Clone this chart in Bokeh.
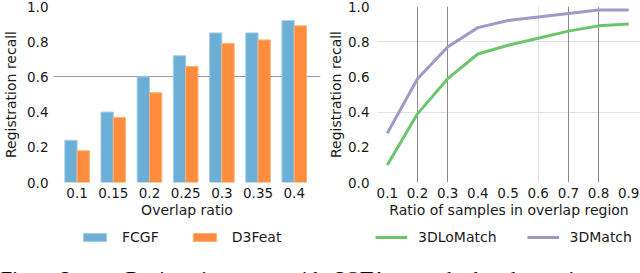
from bokeh.plotting import figure
from bokeh.models import (ColumnDataSource, Legend, LegendItem, FixedTicker, Grid,
                          Label, NumeralTickFormatter)
from bokeh.layouts import row, column
from bokeh.transform import dodge
from bokeh.embed import file_html
from bokeh.resources import INLINE

# ---------------- data ----------------
overlap_labels = ["0.1", "0.15", "0.2", "0.25", "0.3", "0.35", "0.4"]
fcgf = [0.24, 0.40, 0.60, 0.72, 0.85, 0.85, 0.92]
d3feat = [0.18, 0.37, 0.51, 0.66, 0.79, 0.81, 0.89]

sample_ratio = [0.1, 0.2, 0.3, 0.4, 0.5, 0.6, 0.7, 0.8, 0.9]
lomatch = [0.10, 0.39, 0.59, 0.73, 0.78, 0.82, 0.86, 0.89, 0.90]
match3d = [0.28, 0.59, 0.77, 0.88, 0.92, 0.94, 0.96, 0.98, 0.98]

y_ticks = [0.0, 0.2, 0.4, 0.6, 0.8, 1.0]

caption_words = ["Figure 2:", "Registration", "with", "SOTA", "methods", "data", "in", "t"]

FONT = "DejaVu Sans"
TICK_FS = "13.5px"
TITLE_FS = "14px"
TXT = "#1a1a1a"
BLUE, BLUE_EDGE = "#6baed6", "#a6cde6"
ORANGE, ORANGE_EDGE = "#fd8d3c", "#fdb17a"
GREEN, PURPLE = "#6cc46c", "#9e9ac8"

CAP_FONT = "Liberation Serif"
CAP_FS = "21px"


def style_axes(p):
    for ax in (p.xaxis[0], p.yaxis[0]):
        ax.axis_line_color = None
        ax.major_tick_line_color = None
        ax.minor_tick_line_color = None
        ax.major_tick_out = 0
        ax.major_tick_in = 0
        ax.major_label_text_font = FONT
        ax.major_label_text_font_size = TICK_FS
        ax.major_label_text_color = TXT
        ax.axis_label_text_font = FONT
        ax.axis_label_text_font_size = TITLE_FS
        ax.axis_label_text_font_style = "normal"
        ax.axis_label_text_color = TXT
    p.outline_line_color = None
    p.background_fill_color = "white"
    p.border_fill_color = "white"


ROW_H = 222
T1 = 6
FH = 176
B1 = ROW_H - T1 - FH

# ---------------- left: bar chart ----------------
L1, R1 = 48, 5
idx = list(range(len(overlap_labels)))
src1 = ColumnDataSource(dict(x=idx, fcgf=fcgf, d3feat=d3feat))

p1 = figure(width=325, height=ROW_H, x_range=(-0.652, 6.725), y_range=(0, 1.0),
            output_backend="svg", toolbar_location=None,
            min_border_left=L1, min_border_right=R1, min_border_top=T1, min_border_bottom=B1)
style_axes(p1)
bw = 0.34
bar_f = dict(fill_color=BLUE, line_color=BLUE_EDGE, line_width=1)
bar_d = dict(fill_color=ORANGE, line_color=ORANGE_EDGE, line_width=1)
p1.vbar(x=dodge("x", -bw / 2, range=p1.x_range), top="fcgf", width=bw, source=src1, **bar_f)
p1.vbar(x=dodge("x", bw / 2, range=p1.x_range), top="d3feat", width=bw, source=src1, **bar_d)

p1.xaxis.ticker = FixedTicker(ticks=idx)
p1.xaxis.major_label_overrides = {i: s for i, s in zip(idx, overlap_labels)}
p1.xaxis.axis_label = "Overlap ratio"
p1.xaxis.major_label_standoff = 5
p1.xaxis.axis_label_standoff = 1
p1.yaxis.ticker = FixedTicker(ticks=y_ticks)
p1.yaxis.formatter = NumeralTickFormatter(format="0.0")
p1.yaxis.axis_label = "Registration recall"
p1.yaxis.major_label_standoff = 5
p1.yaxis.axis_label_standoff = 5
p1.xgrid.grid_line_color = None
p1.ygrid.ticker = FixedTicker(ticks=[0.6])
p1.ygrid.grid_line_color = "#9a9a9a"
p1.ygrid.grid_line_width = 1

# ---------------- right: line chart ----------------
L2, R2 = 47, 0
p2 = figure(width=315, height=ROW_H, x_range=(0.0675, 0.939), y_range=(0, 1.0),
            output_backend="svg", toolbar_location=None,
            min_border_left=L2, min_border_right=R2, min_border_top=T1, min_border_bottom=B1)
style_axes(p2)
src2 = ColumnDataSource(dict(x=sample_ratio, lo=lomatch, m=match3d))
line_lo = dict(line_color=GREEN, line_width=3)
line_m = dict(line_color=PURPLE, line_width=3)
p2.line("x", "lo", source=src2, **line_lo)
p2.line("x", "m", source=src2, **line_m)

p2.xaxis.ticker = FixedTicker(ticks=sample_ratio)
p2.xaxis.formatter = NumeralTickFormatter(format="0.0")
p2.xaxis.axis_label = "Ratio of samples in overlap region"
p2.xaxis.major_label_standoff = 5
p2.xaxis.axis_label_standoff = 1
p2.yaxis.ticker = FixedTicker(ticks=y_ticks)
p2.yaxis.formatter = NumeralTickFormatter(format="0.0")
p2.yaxis.axis_label = "Registration recall"
p2.yaxis.major_label_standoff = 8
p2.yaxis.axis_label_standoff = 1

p2.xgrid.ticker = FixedTicker(ticks=[0.6])
p2.xgrid.grid_line_color = "#e2e2e2"
p2.ygrid.ticker = FixedTicker(ticks=[0.4, 0.8])
p2.ygrid.grid_line_color = "#e2e2e2"
p2.add_layout(Grid(dimension=0, ticker=FixedTicker(ticks=[0.2, 0.3, 0.7, 0.8]),
                   grid_line_color="#8a8a8a", grid_line_width=1))

# ---------------- strip with legends and the (cut off) caption ----------------
STRIP_H = 273 - ROW_H
strip = figure(width=640, height=STRIP_H, x_range=(0, 640), y_range=(0, STRIP_H),
               output_backend="svg", toolbar_location=None,
               min_border=0, x_axis_type=None, y_axis_type=None)
strip.outline_line_color = None
strip.xgrid.grid_line_color = None
strip.ygrid.grid_line_color = None

# legend keys: hidden renderers on the same data that carry the series styles
k_f = strip.vbar(x="x", top="fcgf", width=bw, source=src1, visible=False, **bar_f)
k_d = strip.vbar(x="x", top="d3feat", width=bw, source=src1, visible=False, **bar_d)
k_lo = strip.line("x", "lo", source=src2, visible=False, **line_lo)
k_m = strip.line("x", "m", source=src2, visible=False, **line_m)

common = dict(orientation="horizontal", glyph_height=10, label_height=14,
              padding=5, margin=0, label_text_font=FONT, label_text_font_size=TITLE_FS,
              label_text_color=TXT, border_line_color=None, background_fill_alpha=0)
leg1 = Legend(items=[LegendItem(label="FCGF", renderers=[k_f], index=0),
                     LegendItem(label="D3Feat", renderers=[k_d], index=0)],
              location=(80, 28), glyph_width=29, label_standoff=13, spacing=31, **common)
leg2 = Legend(items=[LegendItem(label="3DLoMatch", renderers=[k_lo]),
                     LegendItem(label="3DMatch", renderers=[k_m])],
              location=(375, 28), glyph_width=32, label_standoff=11, spacing=30, **common)
strip.add_layout(leg1, "center")
strip.add_layout(leg2, "center")

caption_x = [0, 125, 286, 333, 415, 505, 568, 605]
for word, cx in zip(caption_words, caption_x):
    strip.add_layout(Label(x=cx, y=7, text=word, text_baseline="top",
                           text_align="left", text_font=CAP_FONT, text_font_size=CAP_FS,
                           text_color="black"))

layout = column(row(p1, p2, spacing=0), strip, spacing=0)
open("out.html", "w").write(file_html(layout, INLINE))
